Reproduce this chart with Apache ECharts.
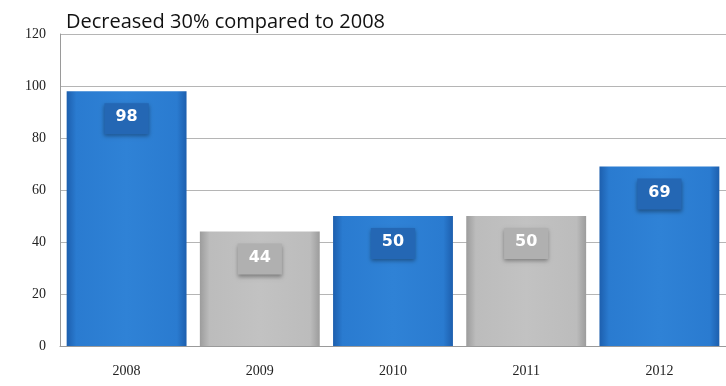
<!DOCTYPE html>
<html>
<head>
<meta charset="utf-8">
<script src="https://cdn.jsdelivr.net/npm/echarts@6/dist/echarts.min.js"></script>
<style>
  html, body { margin: 0; padding: 0; background: #fff; }
  #chart { width: 726px; height: 386px; }
</style>
</head>
<body>
<div id="chart"></div>
<script>
const years = ['2008', '2009', '2010', '2011', '2012']
const values = [98, 44, 50, 50, 69]
const isGray = [false, true, false, true, false]
const yTicks = [0, 20, 40, 60, 80, 100, 120]

const blueFill = {
  type: 'linear', x: 0, y: 0, x2: 1, y2: 0,
  colorStops: [
    { offset: 0, color: '#1d5fae' },
    { offset: 0.08, color: '#2a7bd0' },
    { offset: 0.5, color: '#2f82d6' },
    { offset: 0.92, color: '#2a7bd0' },
    { offset: 1, color: '#1d5fae' },
  ],
}
const grayFill = {
  type: 'linear', x: 0, y: 0, x2: 1, y2: 0,
  colorStops: [
    { offset: 0, color: '#9c9c9c' },
    { offset: 0.08, color: '#bcbcbc' },
    { offset: 0.5, color: '#c2c2c2' },
    { offset: 0.92, color: '#bcbcbc' },
    { offset: 1, color: '#9c9c9c' },
  ],
}

const barData = values.map((v, i) => ({
  value: v,
  itemStyle: { color: isGray[i] ? grayFill : blueFill },
  label: {
    backgroundColor: isGray[i] ? '#b0b0b0' : '#2467b4',
    shadowColor: 'rgba(0,0,0,0.35)',
  },
}))

const chart = echarts.init(document.getElementById('chart'))
chart.setOption({
  animation: false,
  title: {
    text: 'Decreased 30% compared to 2008',
    left: 61,
    top: 7,
    textStyle: { fontFamily: 'Open Sans', fontSize: 20, fontWeight: 'normal', color: '#111' },
  },
  grid: { left: 60, right: -3, top: 34, bottom: 40 },
  xAxis: {
    type: 'category',
    data: years,
    axisLine: { show: true, lineStyle: { color: '#9a9a9a' } },
    axisTick: { show: false },
    axisLabel: { margin: 18, fontFamily: 'Liberation Serif', fontSize: 14, color: '#222' },
  },
  yAxis: {
    type: 'value',
    min: 0,
    max: 120,
    interval: 20,
    axisLine: { show: true, lineStyle: { color: '#9a9a9a' } },
    axisTick: { show: false },
    axisLabel: {
      margin: 14,
      fontFamily: 'Liberation Serif',
      fontSize: 14,
      color: '#222',
      formatter: v => (yTicks.includes(v) ? String(v) : ''),
    },
    splitLine: { show: true, lineStyle: { color: '#b5b5b5' } },
  },
  series: [
    {
      type: 'bar',
      data: barData,
      barCategoryGap: '10%',
      label: {
        show: true,
        position: 'insideTop',
        distance: 12,
        color: '#fff',
        fontFamily: 'DejaVu Sans',
        fontWeight: 'bold',
        fontSize: 16,
        padding: [6, 11, 9, 11],
        shadowBlur: 4,
        shadowOffsetY: 2,
      },
    },
  ],
})
</script>
</body>
</html>
